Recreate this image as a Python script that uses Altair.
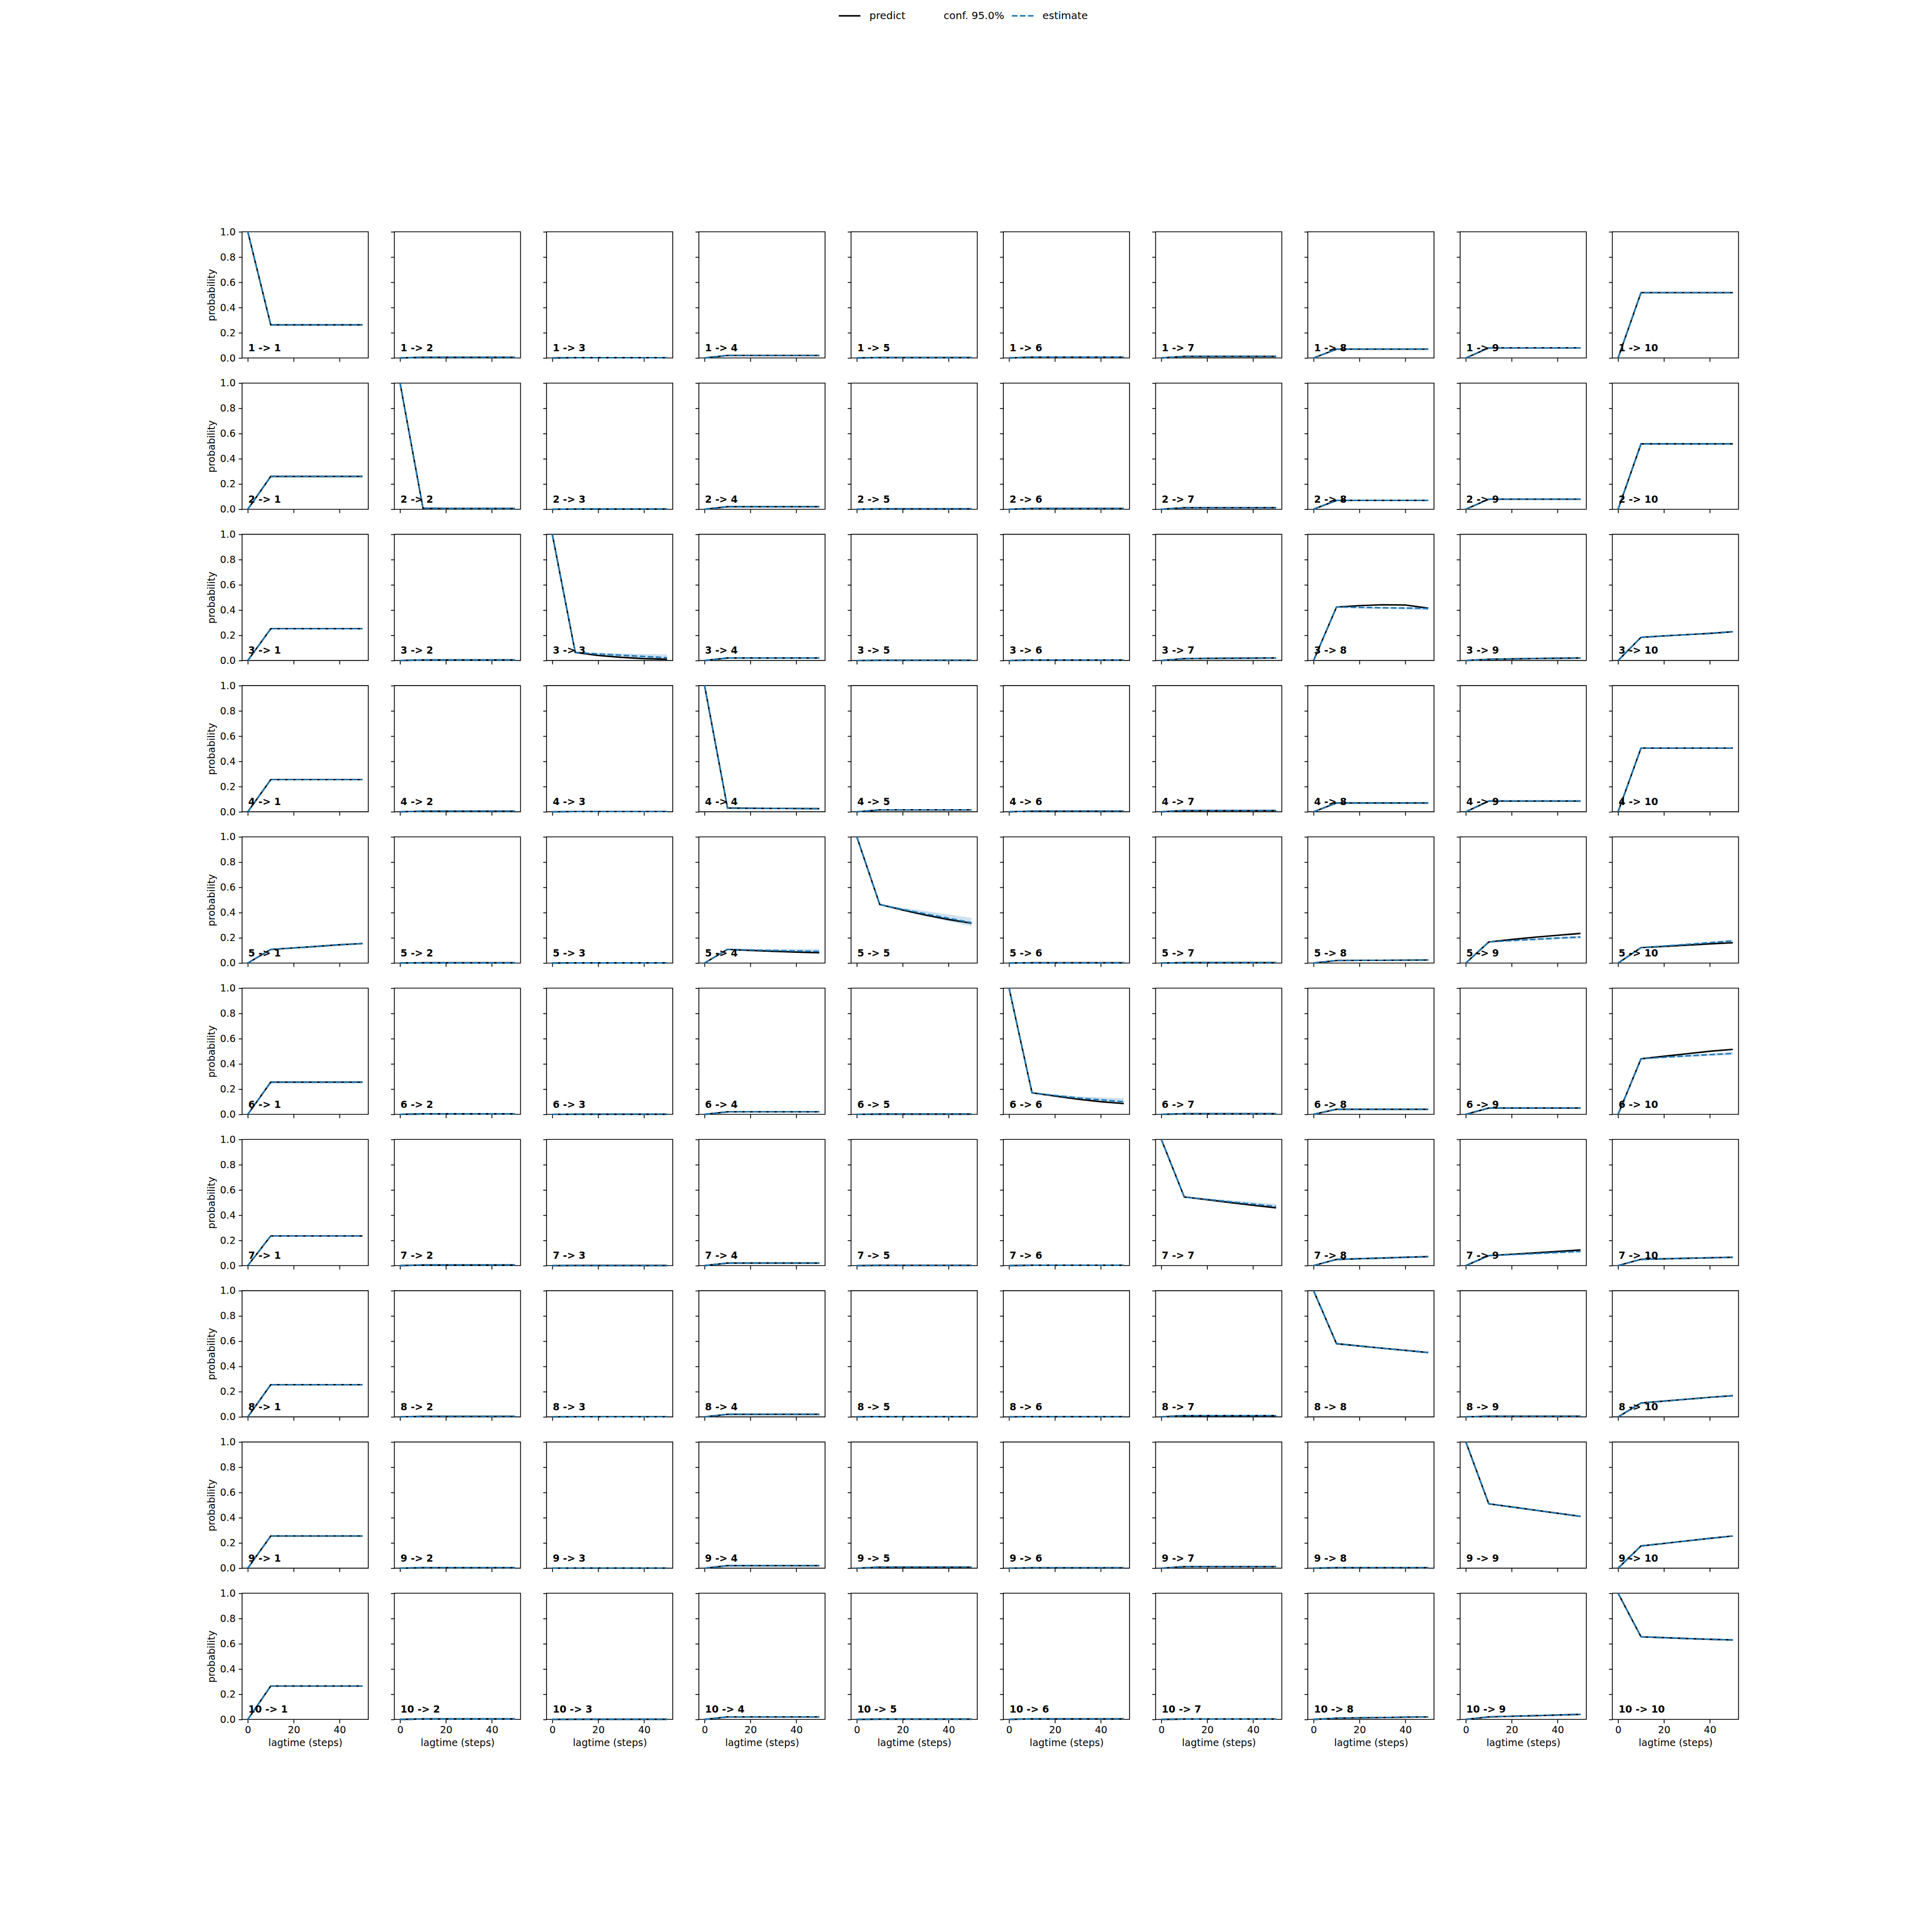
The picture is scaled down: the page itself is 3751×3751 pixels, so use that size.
import altair as alt
import pandas as pd

LAGS = [0, 10, 20, 30, 40, 50]
STATES = list(range(1, 11))
X_TICKS = [0, 20, 40]
Y_TICKS = [0.0, 0.2, 0.4, 0.6, 0.8, 1.0]
SERIES = ["predict", "conf. 95.0%", "estimate"]

# predicted transition probabilities, PREDICT[i][j-1] = i -> j over LAGS
PREDICT = {
    1: [
        [1.0, 0.262, 0.262, 0.262, 0.262, 0.262],
        [0.0, 0.005, 0.005, 0.005, 0.005, 0.005],
        [0.0, 0.002, 0.002, 0.002, 0.002, 0.002],
        [0.0, 0.020, 0.020, 0.020, 0.020, 0.020],
        [0.0, 0.003, 0.003, 0.003, 0.003, 0.003],
        [0.0, 0.006, 0.006, 0.006, 0.006, 0.006],
        [0.0, 0.012, 0.012, 0.012, 0.012, 0.012],
        [0.0, 0.070, 0.070, 0.070, 0.070, 0.070],
        [0.0, 0.080, 0.080, 0.080, 0.080, 0.080],
        [0.0, 0.518, 0.518, 0.518, 0.518, 0.518],
    ],
    2: [
        [0.0, 0.260, 0.260, 0.260, 0.260, 0.260],
        [1.0, 0.008, 0.006, 0.006, 0.006, 0.006],
        [0.0, 0.002, 0.002, 0.002, 0.002, 0.002],
        [0.0, 0.020, 0.020, 0.020, 0.020, 0.020],
        [0.0, 0.003, 0.003, 0.003, 0.003, 0.003],
        [0.0, 0.006, 0.006, 0.006, 0.006, 0.006],
        [0.0, 0.012, 0.012, 0.012, 0.012, 0.012],
        [0.0, 0.070, 0.070, 0.070, 0.070, 0.070],
        [0.0, 0.080, 0.080, 0.080, 0.080, 0.080],
        [0.0, 0.518, 0.518, 0.518, 0.518, 0.518],
    ],
    3: [
        [0.0, 0.252, 0.252, 0.252, 0.252, 0.252],
        [0.0, 0.005, 0.005, 0.005, 0.005, 0.005],
        [1.0, 0.064, 0.040, 0.025, 0.015, 0.010],
        [0.0, 0.020, 0.020, 0.020, 0.020, 0.020],
        [0.0, 0.002, 0.002, 0.002, 0.002, 0.002],
        [0.0, 0.004, 0.004, 0.004, 0.004, 0.004],
        [0.0, 0.015, 0.017, 0.018, 0.019, 0.020],
        [0.0, 0.424, 0.435, 0.442, 0.440, 0.415],
        [0.0, 0.010, 0.013, 0.016, 0.018, 0.020],
        [0.0, 0.184, 0.195, 0.205, 0.215, 0.228],
    ],
    4: [
        [0.0, 0.255, 0.255, 0.255, 0.255, 0.255],
        [0.0, 0.005, 0.005, 0.005, 0.005, 0.005],
        [0.0, 0.002, 0.002, 0.002, 0.002, 0.002],
        [1.0, 0.030, 0.028, 0.027, 0.026, 0.025],
        [0.0, 0.015, 0.015, 0.015, 0.015, 0.015],
        [0.0, 0.005, 0.005, 0.005, 0.005, 0.005],
        [0.0, 0.010, 0.010, 0.010, 0.010, 0.010],
        [0.0, 0.070, 0.070, 0.070, 0.070, 0.070],
        [0.0, 0.085, 0.085, 0.085, 0.085, 0.085],
        [0.0, 0.505, 0.505, 0.505, 0.505, 0.505],
    ],
    5: [
        [0.0, 0.108, 0.120, 0.132, 0.145, 0.155],
        [0.0, 0.002, 0.002, 0.002, 0.002, 0.002],
        [0.0, 0.001, 0.001, 0.001, 0.001, 0.001],
        [0.0, 0.108, 0.100, 0.093, 0.087, 0.082],
        [1.0, 0.464, 0.420, 0.380, 0.345, 0.316],
        [0.0, 0.002, 0.002, 0.002, 0.002, 0.002],
        [0.0, 0.003, 0.003, 0.003, 0.003, 0.003],
        [0.0, 0.020, 0.021, 0.022, 0.023, 0.024],
        [0.0, 0.167, 0.187, 0.205, 0.220, 0.235],
        [0.0, 0.122, 0.132, 0.142, 0.152, 0.161],
    ],
    6: [
        [0.0, 0.255, 0.255, 0.255, 0.255, 0.255],
        [0.0, 0.004, 0.004, 0.004, 0.004, 0.004],
        [0.0, 0.001, 0.001, 0.001, 0.001, 0.001],
        [0.0, 0.020, 0.020, 0.020, 0.020, 0.020],
        [0.0, 0.002, 0.002, 0.002, 0.002, 0.002],
        [1.0, 0.171, 0.145, 0.120, 0.100, 0.085],
        [0.0, 0.005, 0.005, 0.005, 0.005, 0.005],
        [0.0, 0.040, 0.040, 0.040, 0.040, 0.040],
        [0.0, 0.050, 0.050, 0.050, 0.050, 0.050],
        [0.0, 0.440, 0.460, 0.480, 0.500, 0.515],
    ],
    7: [
        [0.0, 0.235, 0.235, 0.235, 0.235, 0.235],
        [0.0, 0.005, 0.005, 0.005, 0.005, 0.005],
        [0.0, 0.001, 0.001, 0.001, 0.001, 0.001],
        [0.0, 0.020, 0.020, 0.020, 0.020, 0.020],
        [0.0, 0.002, 0.002, 0.002, 0.002, 0.002],
        [0.0, 0.003, 0.003, 0.003, 0.003, 0.003],
        [1.0, 0.544, 0.522, 0.500, 0.478, 0.458],
        [0.0, 0.049, 0.055, 0.060, 0.066, 0.071],
        [0.0, 0.079, 0.090, 0.101, 0.112, 0.124],
        [0.0, 0.050, 0.054, 0.058, 0.062, 0.066],
    ],
    8: [
        [0.0, 0.255, 0.255, 0.255, 0.255, 0.255],
        [0.0, 0.004, 0.004, 0.004, 0.004, 0.004],
        [0.0, 0.001, 0.001, 0.001, 0.001, 0.001],
        [0.0, 0.020, 0.020, 0.020, 0.020, 0.020],
        [0.0, 0.002, 0.002, 0.002, 0.002, 0.002],
        [0.0, 0.002, 0.002, 0.002, 0.002, 0.002],
        [0.0, 0.010, 0.010, 0.010, 0.010, 0.010],
        [1.0, 0.580, 0.562, 0.544, 0.527, 0.510],
        [0.0, 0.005, 0.005, 0.005, 0.005, 0.005],
        [0.0, 0.110, 0.125, 0.140, 0.155, 0.168],
    ],
    9: [
        [0.0, 0.255, 0.255, 0.255, 0.255, 0.255],
        [0.0, 0.004, 0.004, 0.004, 0.004, 0.004],
        [0.0, 0.001, 0.001, 0.001, 0.001, 0.001],
        [0.0, 0.020, 0.020, 0.020, 0.020, 0.020],
        [0.0, 0.008, 0.008, 0.008, 0.008, 0.008],
        [0.0, 0.003, 0.003, 0.003, 0.003, 0.003],
        [0.0, 0.012, 0.012, 0.012, 0.012, 0.012],
        [0.0, 0.004, 0.004, 0.004, 0.004, 0.004],
        [1.0, 0.510, 0.485, 0.460, 0.435, 0.410],
        [0.0, 0.176, 0.196, 0.216, 0.236, 0.255],
    ],
    10: [
        [0.0, 0.265, 0.265, 0.265, 0.265, 0.265],
        [0.0, 0.004, 0.004, 0.004, 0.004, 0.004],
        [0.0, 0.001, 0.001, 0.001, 0.001, 0.001],
        [0.0, 0.020, 0.020, 0.020, 0.020, 0.020],
        [0.0, 0.002, 0.002, 0.002, 0.002, 0.002],
        [0.0, 0.005, 0.005, 0.005, 0.005, 0.005],
        [0.0, 0.003, 0.003, 0.003, 0.003, 0.003],
        [0.0, 0.010, 0.013, 0.015, 0.018, 0.020],
        [0.0, 0.020, 0.025, 0.030, 0.035, 0.040],
        [1.0, 0.655, 0.648, 0.641, 0.635, 0.630],
    ],
}

# estimated probabilities where they differ visibly from the prediction
ESTIMATE_DIFF = {
    (3, 3): [1.0, 0.064, 0.052, 0.042, 0.032, 0.022],
    (3, 8): [0.0, 0.424, 0.421, 0.418, 0.416, 0.412],
    (5, 4): [0.0, 0.108, 0.104, 0.100, 0.096, 0.092],
    (5, 5): [1.0, 0.464, 0.425, 0.390, 0.355, 0.320],
    (5, 9): [0.0, 0.167, 0.178, 0.188, 0.198, 0.206],
    (5, 10): [0.0, 0.122, 0.135, 0.148, 0.162, 0.176],
    (6, 6): [1.0, 0.171, 0.150, 0.130, 0.115, 0.100],
    (6, 10): [0.0, 0.440, 0.452, 0.463, 0.473, 0.482],
    (7, 7): [1.0, 0.544, 0.525, 0.506, 0.488, 0.469],
    (7, 9): [0.0, 0.079, 0.087, 0.095, 0.104, 0.112],
}

# 95% confidence band (lower, upper) where visible
CONF = {
    (3, 3): ([1.0, 0.064, 0.035, 0.020, 0.010, 0.005], [1.0, 0.064, 0.060, 0.056, 0.052, 0.049]),
    (3, 8): ([0.0, 0.424, 0.412, 0.408, 0.404, 0.400], [0.0, 0.424, 0.425, 0.423, 0.421, 0.418]),
    (3, 9): ([0.0, 0.010, 0.011, 0.012, 0.013, 0.014], [0.0, 0.010, 0.016, 0.020, 0.023, 0.026]),
    (5, 4): ([0.0, 0.108, 0.098, 0.090, 0.084, 0.078], [0.0, 0.108, 0.110, 0.110, 0.111, 0.112]),
    (5, 5): ([1.0, 0.464, 0.415, 0.372, 0.330, 0.292], [1.0, 0.464, 0.438, 0.412, 0.385, 0.358]),
    (5, 9): ([0.0, 0.167, 0.172, 0.180, 0.188, 0.195], [0.0, 0.167, 0.184, 0.196, 0.208, 0.218]),
    (5, 10): ([0.0, 0.122, 0.131, 0.142, 0.155, 0.168], [0.0, 0.122, 0.139, 0.154, 0.169, 0.184]),
    (6, 6): ([1.0, 0.171, 0.143, 0.120, 0.102, 0.088], [1.0, 0.171, 0.157, 0.143, 0.135, 0.128]),
    (6, 10): ([0.0, 0.440, 0.446, 0.454, 0.462, 0.470], [0.0, 0.440, 0.458, 0.472, 0.484, 0.494]),
    (7, 7): ([1.0, 0.544, 0.519, 0.498, 0.478, 0.458], [1.0, 0.544, 0.532, 0.517, 0.503, 0.490]),
    (7, 9): ([0.0, 0.079, 0.084, 0.090, 0.097, 0.104], [0.0, 0.079, 0.090, 0.100, 0.111, 0.120]),
}

FONT = "DejaVu Sans"
BLUE = "#1f77b4"
PANEL = 245
LW = 2.9

legend = alt.Legend(
    orient="none", legendX=1157, legendY=-442, direction="horizontal", title=None,
    symbolType="stroke", symbolSize=1764, symbolStrokeWidth=LW,
    labelFontSize=20, labelFont=FONT, labelColor="black", labelOffset=16,
    columnPadding=8, padding=0,
)
color_scale = alt.Scale(domain=SERIES, range=["black", "rgba(0,0,0,0)", BLUE])
dash_scale = alt.Scale(domain=SERIES, range=[[1, 0], [1, 0], [11, 4.6]])


def panel(i, j):
    first_col = j == 1
    bottom = i == 10
    pred = PREDICT[i][j - 1]
    est = ESTIMATE_DIFF.get((i, j), pred)
    dfp = pd.DataFrame({"lag": LAGS, "p": pred, "series": "predict"})
    dfe = pd.DataFrame({"lag": LAGS, "p": est, "series": "estimate"})

    xaxis = alt.Axis(
        values=X_TICKS, format="d", labels=bottom, ticks=True, tickSize=7, tickWidth=1.6,
        tickColor="black", domain=False, grid=False, labelFontSize=19, labelFont=FONT,
        labelColor="black", labelPadding=4, labelFlush=False, labelOverlap=False,
        titleFontSize=19, titleFont=FONT, titleFontWeight="normal", titleColor="black",
        titlePadding=6,
    )
    yaxis = alt.Axis(
        values=Y_TICKS, format=".1f", labels=first_col, ticks=True, tickSize=7, tickWidth=1.6,
        tickColor="black", domain=False, grid=False, labelFontSize=19, labelFont=FONT,
        labelColor="black", labelPadding=6, labelFlush=False, labelOverlap=False,
        titleFontSize=19, titleFont=FONT, titleFontWeight="normal", titleColor="black",
        titlePadding=6,
    )
    xs = alt.Scale(domain=[-2.5, 52.5], nice=False, zero=False)
    ys = alt.Scale(domain=[0, 1], nice=False, zero=False)
    x = alt.X("lag:Q", scale=xs, axis=xaxis,
              title="lagtime (steps)" if bottom else None)
    y = alt.Y("p:Q", scale=ys, axis=yaxis,
              title="probability" if first_col else None)

    layers = []
    if (i, j) in CONF:
        lo, hi = CONF[(i, j)]
        dfc = pd.DataFrame({"lag": LAGS, "lo": lo, "hi": hi})
        layers.append(
            alt.Chart(dfc).mark_area(color=BLUE, opacity=0.22).encode(
                x=x, y=alt.Y("lo:Q", scale=ys, axis=yaxis,
                              title="probability" if first_col else None),
                y2="hi:Q")
        )
    if i == 1 and j == 1:
        col = alt.Color("series:N", scale=color_scale, legend=legend)
        dash = alt.StrokeDash("series:N", scale=dash_scale, legend=legend)
        layers.append(alt.Chart(dfp).mark_line(strokeWidth=LW).encode(
            x=x, y=y, color=col, strokeDash=dash))
        layers.append(alt.Chart(dfe).mark_line(strokeWidth=LW).encode(
            x=x, y=y, color=col, strokeDash=dash))
    else:
        layers.append(alt.Chart(dfp).mark_line(strokeWidth=LW, color="black").encode(x=x, y=y))
        layers.append(alt.Chart(dfe).mark_line(strokeWidth=LW, color=BLUE,
                                               strokeDash=[11, 4.6]).encode(x=x, y=y))
    lab = pd.DataFrame({"t": [f"{i} -> {j}"]})
    layers.append(
        alt.Chart(lab).mark_text(align="left", baseline="alphabetic", fontSize=19,
                                 fontWeight="bold", font=FONT, color="black").encode(
            text="t:N", x=alt.value(12), y=alt.value(232))
    )
    return alt.layer(*layers).properties(width=PANEL, height=PANEL)


panels = [panel(i, j) for i in STATES for j in STATES]

chart = alt.ConcatChart(
    concat=panels, columns=10, spacing={"row": 48.7, "column": 50.6}, bounds="flush"
).properties(
    padding={"left": 392, "top": 0, "right": 20, "bottom": 20}
).configure_view(
    stroke="black", strokeWidth=1.6
)

chart.save("out.html", embed_options={"renderer": "svg", "actions": False})
